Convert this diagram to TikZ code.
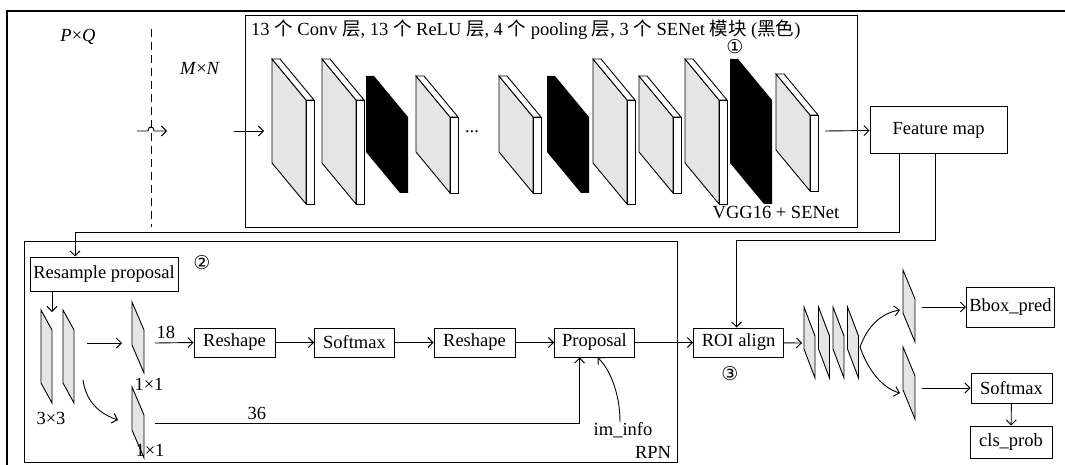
\documentclass[tikz,border=0pt]{standalone}
\usepackage{fontspec}
\setmainfont{Liberation Serif}
\newfontfamily\cjk{Noto Sans CJK SC}
\newfontfamily\circnum{DejaVu Sans}
\usetikzlibrary{positioning, arrows.meta, calc}
\newcommand{\zh}[1]{{\cjk #1}}

\begin{document}
\begin{tikzpicture}[x=1pt, y=-1pt, node distance=38.5pt,
    font=\fontsize{18.5}{22}\selectfont,
    box/.style={rectangle, draw, black, line width=1pt, minimum height=29pt, inner sep=3pt},
    lbl/.style={inner sep=0pt},
    num/.style={inner sep=0pt, font=\circnum\fontsize{19}{19}\selectfont},
    frame/.style={draw, black, line width=1pt},
    link/.style={draw, black, line width=0.9pt},
    arr/.style={link, -{Straight Barb[length=5pt, width=10pt]}},
    pics/slab/.style={code={
        \draw[link, fill=gray!20] (0,0) -- (34,41) -- (34,41+#1) -- (0,#1) -- cycle;
        \draw[link, fill=white] (0,0) -- (8,0) -- (42,41) -- (34,41) -- cycle;
        \draw[link, fill=white] (34,41) rectangle (42,41+#1);
    }},
    pics/blackslab/.style={code={
        \fill[black] (0,0) -- (8,0) -- (42,41) -- (42,41+#1) -- (34,41+#1) -- (0,#1) -- cycle;
    }},
    pics/thin/.style args={#1/#2/#3}{code={
        \draw[link, fill=gray!20] (0,0) -- (#1,#2) -- (#1,#2+#3) -- (0,#3) -- cycle;
    }}]

    \useasboundingbox (0,0) rectangle (1065,465);
    \clip (0,0) rectangle (1065,465);

    % Outer frame and the two groups
    \draw[frame, line width=1.3pt] (7,480) -- (7,11) -- (1080,11);
    \draw[frame] (245,16) rectangle (857,227);
    \draw[frame] (24,241) rectangle (677,462);

    % Input side
    \coordinate (cutTop) at (151,29);
    \coordinate (cutBot) at (151,227);
    \draw[link, dash pattern=on 8pt off 5pt] (cutTop) -- (cutBot);
    \node[lbl] (pq) at (78,37) {\textit{P}×\textit{Q}};
    \node[lbl] (mn) at (200,68) {\textit{M}×\textit{N}};

    % Backbone layers
    \pic at (272,59) {slab=104};
    \pic at (322,59) {slab=104};
    \pic at (366,76) {blackslab=76};
    \pic at (416,76) {slab=76};
    \node[lbl] (dots) at (472,132) {...};
    \pic at (499,76) {slab=76};
    \pic at (547,76) {blackslab=76};
    \pic at (593,59) {slab=104};
    \pic at (639,76) {slab=76};
    \pic at (685,59) {slab=104};
    \pic at (730,59) {blackslab=104};
    \pic at (776,74) {slab=76};

    \node[lbl, anchor=west] (vggtitle) at (251,30) {13 \zh{个} Conv \zh{层}, 13 \zh{个} ReLU \zh{层}, 4 \zh{个} pooling \zh{层}, 3 \zh{个} SENet \zh{模块} (\zh{黑色})};
    \node[num] (c1) at (735,47) {①};
    \node[lbl] (vggname) at (776,213) {VGG16 + SENet};

    % Boxes
    \node[box, minimum width=137pt, minimum height=47pt] (fmap) at (938.5,130.5) {Feature map};
    \node[box, minimum width=148pt, minimum height=34pt] (resample) at (104,274) {Resample proposal};
    \node[num] (c2) at (202,263) {②};
    \node[box, minimum width=81pt] (reshapeA) at (234.5,342.5) {Reshape};
    \node[box, minimum width=80pt, right=of reshapeA] (softmaxA) {Softmax};
    \node[box, minimum width=81pt, right=of softmaxA] (reshapeB) {Reshape};
    \node[box, minimum width=80pt, right=of reshapeB] (proposal) {Proposal};
    \node[box, minimum width=90pt, right=58pt of proposal] (roi) {ROI align};
    \node[num] (c3) at (730,374) {③};
    \node[box, minimum width=87pt, minimum height=40pt] (bbox) at (1010.5,307) {Bbox\_pred};
    \node[box, minimum width=81pt, minimum height=30pt] (softmaxB) at (1011.5,388) {Softmax};
    \node[box, minimum width=82pt, minimum height=32pt] (clsprob) at (1011,442) {cls\_prob};

    % RPN layers
    \pic at (41,310) {thin=11/20/73};
    \pic at (63,310) {thin=11/20/73};
    \pic at (132,302) {thin=12/28/43};
    \pic at (132,387) {thin=12/28/43};
    \node[lbl] (k33) at (51,418) {3×3};
    \node[lbl] (k11a) at (149,384) {1×1};
    \node[lbl] (k11b) at (150,450) {1×1};
    \node[lbl] (iminfo) at (623,430) {im\_info};
    \node[lbl] (rpn) at (653,452) {RPN};

    % Head layers
    \foreach \px in {804,818.5,833,847.5}
        \pic at (\px,307) {thin=11/29/42};
    \pic at (903,270) {thin=12/29/43};
    \pic at (903,347) {thin=12/29/43};

    % Free ends of connectors
    \coordinate (imgIn) at (137,131);
    \coordinate (imgOut) at (167,131);
    \coordinate (resIn) at (234,131);
    \coordinate (vggIn) at (264,131);
    \coordinate (vggOut) at (825,131);
    \coordinate (convIn) at (52,312);
    \coordinate (convOut) at (87,343);
    \coordinate (clsIn) at (122,343);
    \coordinate (clsOut) at (155,343);
    \coordinate (convBend) at (83,380);
    \coordinate (regIn) at (118,420);
    \coordinate (regOut) at (155,423);
    \coordinate (poolIn) at (802,343);
    \coordinate (fork) at (860,347);
    \coordinate (bboxFc) at (900,310);
    \coordinate (clsFc) at (900,393);
    \coordinate (bboxFcOut) at (922,307);
    \coordinate (clsFcOut) at (922,388);

    % Connectors
    \draw[arr] (imgIn) -- (148,131) .. controls (148,125.5) and (154,125.5) .. (154,131) -- (imgOut);
    \draw[arr] (resIn) -- (vggIn);
    \draw[arr] (vggOut) -- (fmap.west);
    \draw[arr] ([xshift=-39.5pt]fmap.south) -- ++(0,78) -| ([xshift=-29pt]resample.north);
    \draw[arr] ([xshift=-3.5pt]fmap.south) -- ++(0,86) -| ([xshift=-2pt]roi.north);
    \draw[arr] ([xshift=-52pt]resample.south) -- (convIn);
    \draw[arr] (convOut) -- (clsIn);
    \draw[arr] (clsOut) -- node[lbl, above=4pt, pos=0.28] (n18) {18} (reshapeA.west);
    \draw[arr] (reshapeA) -- (softmaxA);
    \draw[arr] (softmaxA) -- (reshapeB);
    \draw[arr] (reshapeB) -- (proposal);
    \draw[arr] (proposal) -- (roi);
    \draw[arr] (convBend) .. controls (86,402) and (100,414) .. (regIn);
    \draw[arr] (regOut) -| node[lbl, above=3pt, pos=0.12] (n36) {36} ([xshift=-15pt]proposal.south);
    \draw[arr] ([xshift=-3pt]iminfo.north) .. controls (620,392) and (609,368) .. ([xshift=3pt]proposal.south);
    \draw[arr] (roi) -- (poolIn);
    \draw[arr] (fork) .. controls (868,325) and (882,313) .. (bboxFc);
    \draw[arr] (fork) .. controls (868,370) and (882,388) .. (clsFc);
    \draw[arr] (bboxFcOut) -- (bbox.west);
    \draw[arr] (clsFcOut) -- (softmaxB.west);
    \draw[arr] (softmaxB) -- (clsprob);

\end{tikzpicture}
\end{document}
